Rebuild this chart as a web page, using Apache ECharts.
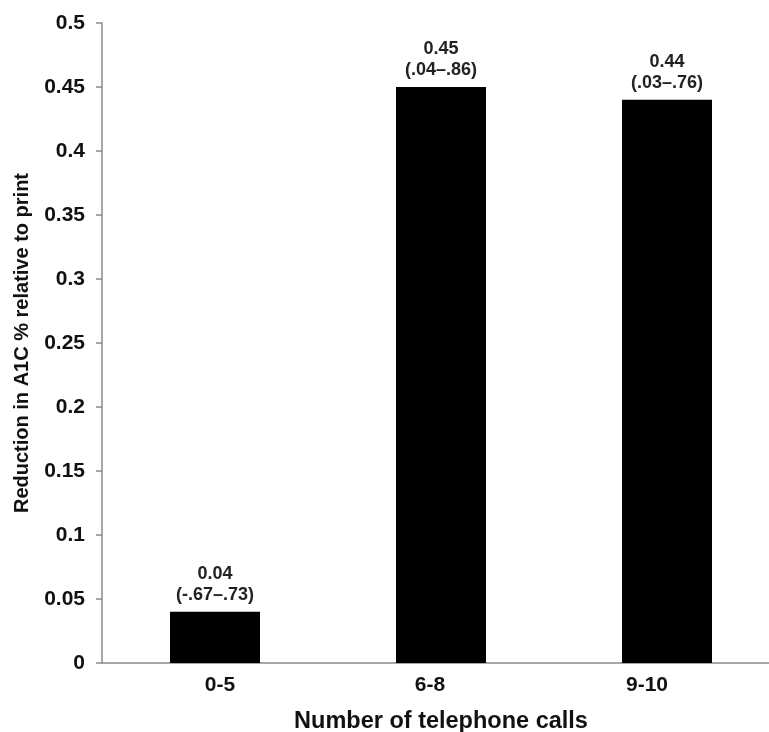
<!DOCTYPE html>
<html>
<head>
<meta charset="utf-8">
<script src="https://cdn.jsdelivr.net/npm/echarts@6/dist/echarts.min.js"></script>
<style>
html,body{margin:0;padding:0;background:#fff;}
#chart{width:769px;height:732px;}
</style>
</head>
<body>
<div id="chart"></div>
<script>
var categories = ['0-5', '6-8', '9-10'];
var values = [0.04, 0.45, 0.44];
var ciLow = ['-.67', '.04', '.03'];
var ciHigh = ['.73', '.86', '.76'];
var yTickLabels = ['0', '0.05', '0.1', '0.15', '0.2', '0.25', '0.3', '0.35', '0.4', '0.45', '0.5'];

var FONT = '"Liberation Sans", Arial, Helvetica, sans-serif';
var chart = echarts.init(document.getElementById('chart'));

var catRich = {
  c0: {padding: [0, 0, 0, 10]},
  c1: {padding: [0, 22, 0, 0]},
  c2: {padding: [0, 40, 0, 0]}
};
['c0','c1','c2'].forEach(function(k){
  catRich[k].fontFamily = FONT; catRich[k].fontWeight = 'bold'; catRich[k].fontSize = 21; catRich[k].color = '#111';
});

chart.setOption({
  animation: false,
  backgroundColor: '#fff',
  grid: {left: 102, right: -11, top: 23, bottom: 69, containLabel: false, outerBoundsMode: 'none'},
  xAxis: {
    type: 'category',
    data: categories,
    name: 'Number of telephone calls',
    nameLocation: 'middle',
    nameGap: 47,
    nameTextStyle: {fontFamily: FONT, fontWeight: 'bold', fontSize: 23.5, color: '#111'},
    axisLine: {show: true, lineStyle: {color: '#8a8a8a', width: 1.5}},
    axisTick: {show: false},
    axisLabel: {
      margin: 12,
      formatter: function(v, i){ return '{c' + i + '|' + v + '}'; },
      rich: catRich
    }
  },
  yAxis: {
    type: 'value',
    min: 0, max: 0.5, interval: 0.05,
    name: 'Reduction in A1C % relative to print',
    nameLocation: 'middle',
    nameGap: 70,
    nameTextStyle: {fontFamily: FONT, fontWeight: 'bold', fontSize: 20, color: '#111'},
    axisLine: {show: true, lineStyle: {color: '#8a8a8a', width: 1.5}},
    axisTick: {show: true, inside: false, length: 6, lineStyle: {color: '#8a8a8a', width: 1.5}},
    splitLine: {show: false},
    axisLabel: {
      margin: 17,
      fontFamily: FONT, fontWeight: 'bold', fontSize: 21, color: '#111',
      formatter: function(v){
        var idx = Math.round(v / 0.05);
        return yTickLabels[idx] !== undefined ? yTickLabels[idx] : '';
      }
    }
  },
  series: [{
    type: 'bar',
    data: values,
    barWidth: 90,
    itemStyle: {color: '#000'},
    label: {
      show: true,
      position: 'top',
      distance: 6,
      formatter: function(p){
        return '{a|' + values[p.dataIndex].toFixed(2) + '}\n{a|(' + ciLow[p.dataIndex] + '\u2013' + ciHigh[p.dataIndex] + ')}';
      },
      rich: {
        a: {fontFamily: FONT, fontWeight: 'bold', fontSize: 18, color: '#222', lineHeight: 21, align: 'center'}
      }
    }
  }]
});
</script>
</body>
</html>
